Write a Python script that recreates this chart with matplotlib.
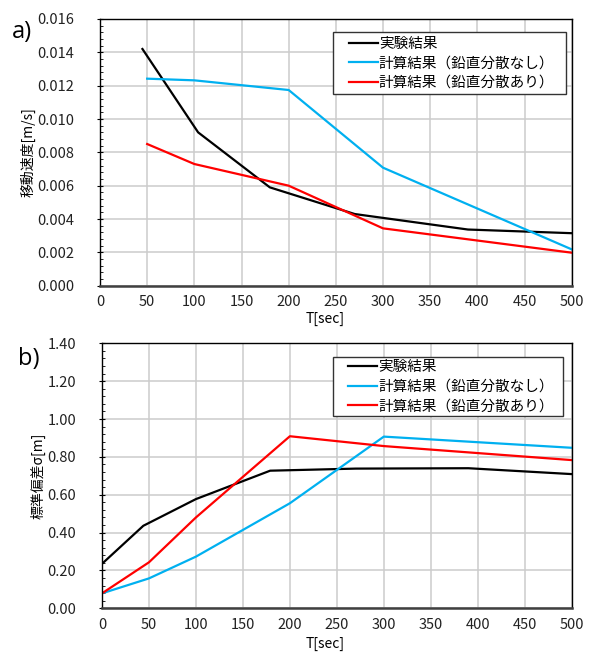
import matplotlib
matplotlib.use("Agg")
import matplotlib.pyplot as plt
from matplotlib.patches import Rectangle
from matplotlib.ticker import AutoMinorLocator, FuncFormatter, MultipleLocator

plt.rcParams['font.family'] = ['Noto Sans CJK JP', 'DejaVu Sans']

legend_labels = ["実験結果", "計算結果（鉛直分散なし）", "計算結果（鉛直分散あり）"]
colors = ["#000000", "#00B0F0", "#FF0000"]

# Panel a: moving speed [m/s]
a_exp_x = [45, 104, 180, 270, 390, 500]
a_exp_y = [0.0142, 0.0092, 0.0059, 0.0043, 0.00337, 0.00315]
a_nov_x = [50, 100, 200, 300, 500]
a_nov_y = [0.01242, 0.01232, 0.01174, 0.00708, 0.00218]
a_v_x = [50, 100, 200, 300, 500]
a_v_y = [0.0085, 0.0073, 0.0060, 0.00344, 0.00198]

# Panel b: standard deviation sigma [m]
b_exp_x = [0, 44, 100, 179, 270, 390, 500]
b_exp_y = [0.235, 0.436, 0.577, 0.727, 0.738, 0.740, 0.709]
b_nov_x = [0, 50, 100, 200, 300, 500]
b_nov_y = [0.079, 0.158, 0.273, 0.555, 0.907, 0.848]
b_v_x = [0, 50, 100, 200, 300, 500]
b_v_y = [0.079, 0.243, 0.480, 0.909, 0.857, 0.783]

x_ticks = [0, 50, 100, 150, 200, 250, 300, 350, 400, 450, 500]

fig = plt.figure(figsize=(5.89, 6.53), dpi=100)
W, H = 589, 653

def px_axes(l, t, r, b):
    return fig.add_axes([l / W, 1 - b / H, (r - l) / W, (b - t) / H])

A = (100, 19, 571.7, 285.7)
B = (102, 343.3, 571.7, 608.3)
ax1 = px_axes(*A)
ax2 = px_axes(*B)

def fx(box, px):
    return (px - box[0]) / (box[2] - box[0])

def fy(box, py):
    return (box[3] - py) / (box[3] - box[1])

def style(ax, box, ymax, ystep, fmt, ylabel, ylab_x, xlab_top, leg_rect, leg_anchor):
    ax.set_xlim(0, 500)
    ax.set_ylim(0, ymax)
    ax.set_xticks(x_ticks)
    ax.yaxis.set_major_locator(MultipleLocator(ystep))
    ax.yaxis.set_minor_locator(AutoMinorLocator(5))
    ax.yaxis.set_major_formatter(FuncFormatter(lambda v, p: fmt.format(v)))
    ax.grid(True, which='major', color='#cccccc', linewidth=1.1)
    ax.set_axisbelow(True)
    for s in ['top', 'right', 'left']:
        ax.spines[s].set_color('black')
        ax.spines[s].set_linewidth(1.0)
    ax.spines['bottom'].set_color('#404040')
    ax.spines['bottom'].set_linewidth(1.8)
    ax.tick_params(axis='x', length=0, labelsize=10.5, pad=7, colors='#222222')
    ax.tick_params(axis='y', which='major', direction='inout', length=4, pad=16.5,
                   labelsize=10.5, colors='#222222')
    ax.tick_params(axis='y', which='major', color='black')
    ax.tick_params(axis='y', which='minor', direction='in', length=2.5, color='black')
    ax.set_ylabel(ylabel, fontsize=10)
    ax.yaxis.set_label_coords(fx(box, ylab_x), 0.5)
    ax.set_xlabel("T[sec]", fontsize=10)
    ax.xaxis.set_label_coords(fx(box, 325), fy(box, xlab_top))
    x0, y0, x1, y1 = leg_rect
    ax.add_patch(Rectangle((fx(box, x0), fy(box, y1)), fx(box, x1) - fx(box, x0),
                           fy(box, y0) - fy(box, y1), transform=ax.transAxes,
                           facecolor='white', edgecolor='#333333', linewidth=1.0,
                           zorder=4))
    leg = ax.legend(loc='center left', bbox_to_anchor=(fx(box, leg_anchor[0]), fy(box, leg_anchor[1])),
                    fontsize=10.5, frameon=False, handlelength=2.0, handletextpad=0.05,
                    borderpad=0, labelspacing=0.37, borderaxespad=0)
    leg.set_zorder(5)

ax1.plot(a_exp_x, a_exp_y, color=colors[0], lw=1.6, label=legend_labels[0])
ax1.plot(a_nov_x, a_nov_y, color=colors[1], lw=1.6, label=legend_labels[1])
ax1.plot(a_v_x, a_v_y, color=colors[2], lw=1.6, label=legend_labels[2])
style(ax1, A, 0.016, 0.002, "{:.3f}", "移動速度[m/s]", 36, 312,
      (332.7, 32.3, 566, 94), (349, 63.3))

ax2.plot(b_exp_x, b_exp_y, color=colors[0], lw=1.6, label=legend_labels[0])
ax2.plot(b_nov_x, b_nov_y, color=colors[1], lw=1.6, label=legend_labels[1])
ax2.plot(b_v_x, b_v_y, color=colors[2], lw=1.6, label=legend_labels[2])
style(ax2, B, 1.4, 0.2, "{:.2f}", "標準偏差σ[m]", 46, 637,
      (333.3, 356.7, 563.3, 416), (348.3, 386.7))

fig.text(12 / W, 1 - 32 / H, "a)", fontsize=17, family='Open Sans', va='center', ha='left')
fig.text(18 / W, 1 - 359 / H, "b)", fontsize=17, family='Open Sans', va='center', ha='left')

fig.savefig("out.png", dpi=100)
